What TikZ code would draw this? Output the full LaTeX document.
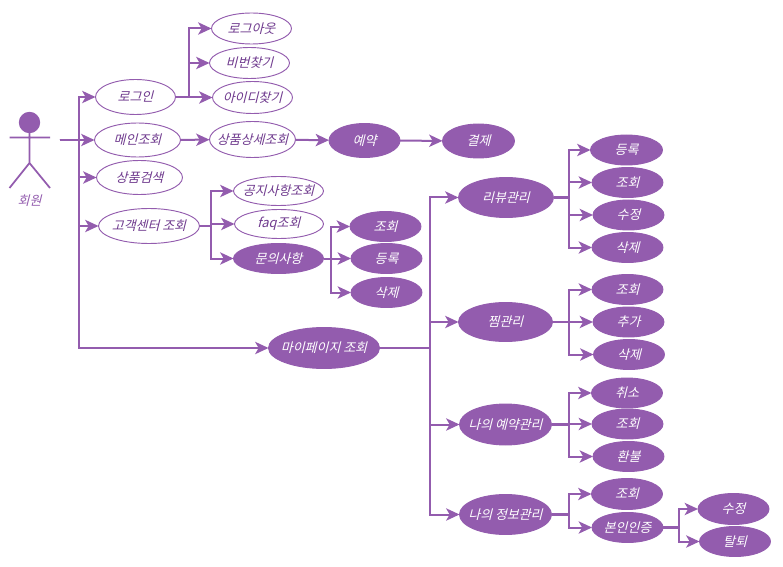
\documentclass[tikz,border=0pt]{standalone}
\usepackage{fontspec}
\usetikzlibrary{arrows.meta,shapes.geometric}
\newfontfamily\krfont[FakeSlant=0.25]{Noto Sans CJK KR}
\definecolor{pp}{HTML}{935CAE}
\definecolor{pt}{HTML}{6F3A8E}
\newcommand\tx[1]{\makebox[0pt]{#1}}
\tikzset{
 lab/.style={font=\krfont\fontsize{9.7}{11}\selectfont},
 uc/.style args={#1/#2}{draw=pp,line width=.7pt,fill=white,text=pt,shape=ellipse,inner sep=0pt,outer sep=0pt,minimum width={(#1-1)*.75pt},minimum height={(#2-1)*.75pt},lab},
 fc/.style args={#1/#2}{uc=#1/#2,fill=pp,text=white},
 conn/.style={draw=pp,line width=1.5pt,-{Stealth[length=10pt,width=9.2pt,inset=2.6pt]}},
 stem/.style={draw=pp,line width=2.1pt},
 stick/.style={draw=pp,line width=1.3pt},
}
\begin{document}
\begin{tikzpicture}[x=.75pt,y=-.75pt]
\useasboundingbox (0,0) rectangle (783,567);
% actor
\fill[pp] (29.5,122.5) circle[radius=8pt];
\draw[stick] (29.5,133) -- (29.5,163) (9.5,137.5) -- (50,137.5) (9.5,188) -- (29.5,163) -- (50,188);
\node[text=pp,lab] (actor) at (29.5,201) {회원};
\coordinate (src) at (59.5,140.5);
% nodes
\node[uc=81/32] (logout) at (251.5,28.5) {\tx{로그아웃}};
\node[uc=81/32] (pw) at (249.5,63) {\tx{비번찾기}};
\node[uc=81/33] (id) at (252.5,97.5) {\tx{아이디찾기}};
\node[uc=81/36] (login) at (135.5,97) {\tx{로그인}};
\node[uc=87/35] (main) at (137.5,140) {\tx{메인조회}};
\node[uc=87/37] (detail) at (252.5,139.5) {\tx{상품상세조회}};
\node[uc=87/35] (search) at (139.5,177.5) {\tx{상품검색}};
\node[uc=102/36] (cs) at (149,226) {\tx{고객센터 조회}};
\node[uc=91/30] (notice) at (278.5,191) {\tx{공지사항조회}};
\node[uc=90/30] (faq) at (279,224) {\tx{faq조회}};
\node[fc=91/31] (qna) at (278.5,258.5) {\tx{문의사항}};
\node[fc=72/31] (q1) at (385.5,226.5) {\tx{조회}};
\node[fc=72/31] (q2) at (386.5,258.5) {\tx{등록}};
\node[fc=72/31] (q3) at (386.5,292.5) {\tx{삭제}};
\node[fc=112/42] (my) at (324,348) {\tx{마이페이지 조회}};
\node[fc=72/35] (res) at (364.5,140.5) {\tx{예약}};
\node[fc=73/35] (pay) at (478.5,141) {\tx{결제}};
\node[fc=96/41] (review) at (506,197.5) {\tx{리뷰관리}};
\node[fc=95/40] (wish) at (505.5,322) {\tx{찜관리}};
\node[fc=93/42] (myres) at (505.5,424.5) {\tx{나의 예약관리}};
\node[fc=93/41] (info) at (505.5,514.5) {\tx{나의 정보관리}};
\node[fc=73/31] (r1) at (626.5,150) {\tx{등록}};
\node[fc=72/31] (r2) at (627.5,182.5) {\tx{조회}};
\node[fc=72/31] (r3) at (628.5,215) {\tx{수정}};
\node[fc=72/31] (r4) at (627.5,247.5) {\tx{삭제}};
\node[fc=72/31] (w1) at (627.5,289.5) {\tx{조회}};
\node[fc=72/31] (w2) at (628.5,322) {\tx{추가}};
\node[fc=72/31] (w3) at (629,354.5) {\tx{삭제}};
\node[fc=72/31] (m1) at (627,393) {\tx{취소}};
\node[fc=72/31] (m2) at (627.5,424) {\tx{조회}};
\node[fc=72/31] (m3) at (628.5,456.5) {\tx{환불}};
\node[fc=72/32] (i1) at (627,494) {\tx{조회}};
\node[fc=72/31] (i2) at (627.5,527.5) {\tx{본인인증}};
\node[fc=72/32] (c1) at (733.5,509) {\tx{수정}};
\node[fc=72/31] (c2) at (735,541.5) {\tx{탈퇴}};
% trunks
\coordinate (ta) at (79,0);
\coordinate (tb) at (189,0);
\coordinate (tc) at (211,0);
\coordinate (td) at (331,0);
\coordinate (te) at (429.5,0);
\coordinate (tf) at (569,0);
\coordinate (tg) at (679,0);
% connectors
\foreach \t/\b in {ta/login,ta/main,ta/search,ta/cs,ta/my}{
 \draw[conn] (src) -- (src -| \t) -- (\t |- \b.west) -- (\b.west);
}
\foreach \a/\t/\b in {
 login/tb/logout,login/tb/pw,login/tb/id,
 cs/tc/notice,cs/tc/faq,cs/tc/qna,
 qna/td/q1,qna/td/q2,qna/td/q3,
 my/te/review,my/te/wish,my/te/myres,my/te/info,
 review/tf/r1,review/tf/r2,review/tf/r3,review/tf/r4,
 wish/tf/w1,wish/tf/w2,wish/tf/w3,
 myres/tf/m1,myres/tf/m2,myres/tf/m3,
 info/tf/i1,info/tf/i2,
 i2/tg/c1,i2/tg/c2}{
 \draw[conn] (\a.east) -- (\a.east -| \t) -- (\t |- \b.west) -- (\b.west);
}
% thickened shared stems
\foreach \a/\t in {login/tb,cs/tc,my/te,review/tf,wish/tf,myres/tf,info/tf,i2/tg}{
 \draw[stem] (\a.east) -- (\a.east -| \t);
}
\draw[conn] (main) -- (detail);
\draw[conn] (detail) -- (res);
\draw[conn] (res) -- (pay);
\end{tikzpicture}
\end{document}
